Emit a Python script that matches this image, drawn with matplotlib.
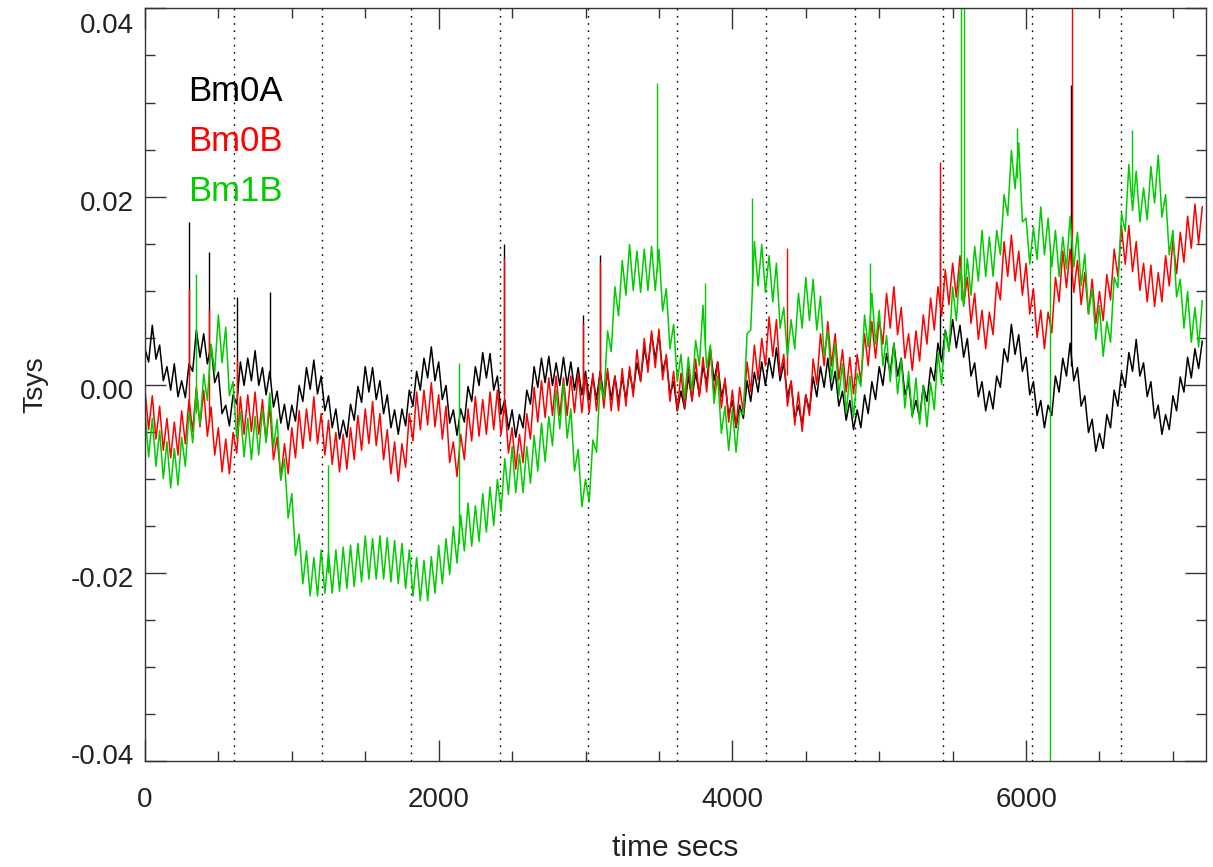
import numpy as np
import matplotlib.pyplot as plt
from matplotlib.ticker import MultipleLocator, FormatStrFormatter
from matplotlib.transforms import ScaledTranslation

# Tsys (unites de 1e-3) : bord haut du bruit aux temps 0, 50, ... 7200 s
# et bord bas aux temps 25, 75, ... 7175 s
t_haut = np.arange(0, 7201, 50)
t_bas = np.arange(25, 7200, 50)

bm0a_haut = [3.8, 6.3, 4.2, 1.9, 2.2, 0.4, 2.2, 5.8, 5.4, 4.2,
             1.3, -2.2, -1.1, 2.4, 2.8, 3.6, 1.8, 1.4, -0.7, -2.1,
             -2.2, -0.1, 1.8, 2.6, 0.9, -1.2, -2.6, -3.8, -2.1, -0.2,
             1.9, 1.8, 0.4, -1.1, -2.7, -2.6, -0.6, 1.4, 2.8, 4.0,
             2.4, -0.1, -2.7, -2.6, -0.2, 1.9, 3.4, 3.3, 0.9, -1.6,
             -2.7, -3.2, -0.6, 1.9, 2.8, 3.0, 2.3, 2.9, 2.4, 1.8,
             1.4, 0.8, 1.4, 1.3, 0.9, 0.8, 1.4, 2.3, 3.9, 5.4,
             5.3, 2.9, 0.3, -0.7, 0.9, 1.3, 1.9, 3.8, 2.4, 0.3,
             -1.7, -2.2, 0.4, 1.3, 2.4, 2.8, 3.9, 2.3, 0.3, -2.2,
             -1.1, 0.8, 1.9, 2.8, 1.4, -0.7, -1.7, -2.7, -1.1, 0.3,
             1.9, 3.3, 4.4, 2.8, 0.3, -1.7, -0.1, 1.8, 4.4, 5.8,
             6.9, 6.3, 4.9, 2.3, 0.3, -0.7, 0.9, 3.8, 6.4, 5.3,
             2.9, 0.3, -1.7, -2.2, 0.9, 2.8, 4.4, 1.8, -1.2, -3.7,
             -5.2, -3.2, -0.6, 1.3, 3.4, 4.8, 2.3, 0.3, -2.2, -3.2,
             -1.2, 0.8, 2.9, 3.8, 4.6]
bm0a_bas = [2.4, 2.7, 0.4, -0.6, -1.3, -1.4, 1.4, 2.9, 2.2, 0.2,
            -3.1, -4.4, -2.1, -0.1, 0.4, -0.1, -1.1, -2.4, -4.1, -4.8,
            -3.9, -1.8, -0.5, -1.0, -2.8, -4.6, -5.8, -5.6, -3.8, -1.9,
            -0.8, -1.6, -3.1, -4.6, -5.3, -4.4, -2.3, -0.6, 0.7, 0.4,
            -1.6, -4.1, -5.4, -4.0, -1.8, -0.1, 0.7, -0.6, -3.1, -4.8,
            -5.6, -4.6, -2.1, -0.3, 0.2, -0.1, -0.1, -0.1, -0.6, -1.1,
            -1.6, -1.6, -1.3, -1.6, -1.8, -1.6, -0.8, 0.4, 1.9, 2.7,
            1.4, -1.1, -2.8, -2.6, -1.6, -1.1, 0.2, 0.4, -1.3, -3.3,
            -4.6, -3.6, -1.8, -0.8, -0.1, 0.7, 0.4, -1.3, -3.6, -4.3,
            -2.8, -1.3, -0.3, -0.6, -2.3, -3.8, -4.8, -4.6, -3.1, -1.6,
            -0.1, 1.2, 0.9, -1.1, -3.3, -3.6, -1.8, 0.4, 2.4, 3.7,
            3.9, 2.9, 0.9, -1.3, -2.8, -2.6, -0.3, 2.4, 3.2, 1.4,
            -1.1, -3.3, -4.6, -3.3, -0.8, 0.9, 0.4, -2.3, -5.1, -7.1,
            -6.8, -4.6, -2.3, -0.3, 1.4, 0.9, -1.3, -3.6, -5.3, -4.8,
            -2.8, -0.8, 0.7, 1.7]

bm0b_haut = [-0.5, -1.2, -2.3, -3.6, -4.0, -2.8, -1.6, -0.3, -0.6, -2.4,
             -4.6, -5.8, -5.1, -1.3, -1.1, -0.8, -1.6, -2.3, -5.6, -6.3,
             -4.6, -2.8, -2.6, -1.3, -3.1, -3.8, -5.1, -5.3, -4.6, -3.3,
             -2.6, -1.8, -3.1, -4.8, -6.1, -6.3, -3.1, -0.8, -0.6, 0.2,
             -1.1, -2.3, -6.1, -5.3, -2.6, -1.3, -1.6, -0.8, -0.6, -1.8,
             -4.6, -5.3, -3.1, -0.3, 0.4, 0.7, 0.9, 0.7, 0.9, 1.2,
             0.9, 1.2, 1.4, 1.7, 0.9, 1.7, 1.9, 3.7, 4.9, 5.7,
             5.9, 3.2, 1.4, 1.2, 1.9, 2.7, 2.9, 3.7, 2.4, 0.7,
             -0.6, -0.3, 2.4, 4.2, 4.9, 7.2, 6.9, 3.2, 0.4, -0.8,
             -1.1, 2.7, 5.4, 6.7, 5.4, 3.7, 2.9, 3.2, 5.4, 6.7,
             6.9, 9.7, 10.4, 8.2, 5.4, 5.7, 7.4, 9.2, 10.4, 12.2,
             12.9, 13.7, 11.4, 9.7, 7.9, 7.7, 10.9, 15.2, 15.9, 14.2,
             12.9, 10.2, 7.9, 7.7, 11.4, 14.2, 14.4, 13.2, 11.9, 11.2,
             9.9, 11.7, 14.4, 16.7, 16.9, 15.2, 12.9, 12.7, 11.9, 13.7,
             15.4, 16.2, 17.9, 19.2, 18.9]
bm0b_bas = [-4.8, -5.8, -7.0, -7.8, -7.5, -6.3, -5.0, -4.5, -5.5, -7.5,
            -9.3, -9.5, -7.3, -5.3, -5.0, -5.3, -6.0, -8.0, -10.0, -9.5,
            -7.8, -6.8, -6.0, -6.3, -7.5, -8.5, -9.3, -9.0, -8.0, -7.0,
            -6.3, -6.5, -8.0, -9.5, -10.3, -8.8, -6.0, -4.8, -4.3, -4.5,
            -5.8, -8.3, -9.8, -8.0, -6.0, -5.5, -5.3, -4.8, -5.3, -7.3,
            -9.0, -8.3, -5.8, -4.0, -3.5, -3.3, -3.3, -3.3, -3.0, -3.0,
            -3.0, -2.8, -2.5, -2.8, -2.8, -2.3, -1.3, 0.3, 1.3, 1.8,
            0.5, -1.8, -2.8, -2.5, -1.8, -1.3, -0.8, -1.0, -2.5, -4.0,
            -4.5, -3.0, -0.8, 0.5, 2.0, 3.0, 1.0, -2.3, -4.3, -5.0,
            -3.3, 0.0, 2.0, 2.0, 0.5, -0.8, -1.0, 0.3, 2.0, 2.8,
            4.3, 6.0, 5.3, 2.8, 1.5, 2.5, 4.3, 5.8, 7.3, 8.5,
            9.3, 8.5, 6.5, 4.8, 3.8, 5.3, 9.0, 11.5, 11.0, 9.5,
            7.5, 5.0, 3.8, 5.5, 8.8, 10.3, 9.8, 8.5, 7.5, 6.5,
            6.8, 9.0, 11.5, 12.8, 12.0, 10.0, 8.8, 8.3, 8.8, 10.5,
            11.8, 13.0, 14.5, 15.0]

bm1b_haut = [-2.8, -3.6, -4.9, -6.1, -6.8, -5.6, -2.9, -0.6, 1.1, 4.3,
             7.4, 6.1, 0.3, -2.9, -3.6, -3.4, -2.6, -0.9, -3.7, -7.9,
             -11.6, -15.9, -17.7, -18.4, -17.6, -17.9, -17.6, -17.3, -17.1, -16.9,
             -16.1, -16.4, -16.1, -16.3, -16.6, -16.9, -17.6, -18.4, -18.7, -18.3,
             -17.1, -16.4, -15.1, -13.9, -12.6, -12.9, -11.6, -10.9, -10.1, -7.9,
             -6.6, -7.4, -6.6, -5.4, -4.1, -3.4, -0.6, 0.2, -2.6, -6.9,
             -10.1, -5.9, 0.4, 5.7, 10.4, 13.2, 14.9, 14.2, 14.4, 14.7,
             14.4, 10.2, 6.4, 3.2, 2.9, 4.7, 8.4, 4.2, 0.9, -2.3,
             -2.6, -2.8, 5.4, 15.2, 14.9, 13.7, 12.9, 8.2, 6.9, 9.7,
             11.4, 11.2, 9.4, 5.7, 4.4, 2.2, 0.9, 1.2, 7.4, 9.7,
             7.9, 5.2, 4.4, 2.7, 1.4, 0.7, -0.1, 0.2, 3.4, 5.7,
             10.4, 12.2, 13.4, 14.7, 16.4, 15.7, 16.4, 20.2, 24.9, 25.7,
             17.7, 16.7, 18.9, 17.7, 16.4, 15.7, 17.9, 16.2, 13.9, 10.2,
             8.4, 6.7, 11.4, 18.2, 23.4, 22.7, 20.9, 23.2, 24.4, 20.2,
             16.4, 11.2, 9.9, 8.2, 8.9]
bm1b_bas = [-7.7, -8.7, -10.0, -11.0, -10.7, -8.7, -6.2, -4.2, -1.7, 1.3,
            2.3, -1.2, -5.7, -7.7, -8.0, -7.5, -6.2, -6.7, -10.2, -14.2,
            -18.2, -21.2, -22.5, -22.5, -22.2, -22.2, -22.0, -21.7, -21.5, -21.0,
            -20.7, -20.7, -20.7, -21.0, -21.2, -21.7, -22.5, -23.0, -23.0, -22.2,
            -21.2, -20.2, -19.0, -17.7, -17.2, -16.7, -15.7, -15.0, -13.5, -11.7,
            -11.5, -11.5, -10.5, -9.2, -8.2, -6.5, -4.7, -5.7, -9.2, -13.0,
            -12.5, -7.2, -1.5, 3.5, 7.3, 9.5, 10.0, 9.8, 10.0, 10.0,
            7.8, 3.8, 0.3, -1.5, -0.7, 2.0, 1.8, -2.0, -5.2, -7.0,
            -7.2, -3.2, 5.8, 10.5, 9.8, 8.8, 6.0, 3.0, 3.8, 6.0,
            6.8, 5.8, 3.0, 0.5, -1.2, -3.0, -3.5, -0.2, 4.0, 4.3,
            2.0, 0.3, -1.0, -2.5, -3.5, -4.2, -4.5, -2.7, 0.0, 3.5,
            6.8, 8.3, 9.5, 11.0, 11.5, 11.5, 13.8, 18.0, 20.8, 17.3,
            12.8, 13.3, 13.8, 12.5, 11.5, 12.3, 12.5, 10.5, 7.5, 4.8,
            3.0, 4.5, 10.3, 16.3, 18.5, 17.3, 17.5, 19.3, 17.8, 13.8,
            9.3, 6.0, 4.5, 4.0]

# pics isoles : temps, base, sommet (1e-3)
pics_a_t = [300, 436, 625, 850, 2445, 2985, 3098, 5414, 6306]
pics_a_bas = [1.0, 3.0, -1.0, 0.5, -1.0, 0.0, 0.0, 3.0, 2.0]
pics_a_haut = [17.3, 14.1, 9.3, 9.8, 15.0, 7.4, 13.8, 18.9, 31.9]

pics_b_t = [300, 436, 625, 2445, 2985, 3098, 4370, 5414, 6310]
pics_b_bas = [-3.5, -4.0, -6.0, -3.0, -1.0, -0.5, 1.0, 8.5, 12.0]
pics_b_haut = [10.2, 7.9, 2.6, 13.5, 6.5, 13.0, 14.5, 23.7, 45.0]

pics_c_t = [350, 1245, 2140, 3487, 3815, 4135, 4937, 5555, 5575, 5935, 6163, 6720]
pics_c_bas = [-3.0, -20.0, -17.0, 12.0, 4.0, 10.0, 5.0, 9.0, 9.0, 22.0, 15.0, 20.0]
pics_c_haut = [11.8, -8.6, 2.3, 32.1, 10.8, 19.8, 12.9, 60.0, 60.0, 27.3, -60.0, 27.1]

# lignes verticales pointillees
reperes = [604, 1208, 1812, 2416, 3020, 3624, 4228, 4832, 5436, 6040, 6644]

series = [("Bm0A", bm0a_haut, bm0a_bas, pics_a_t, pics_a_bas, pics_a_haut, "black"),
          ("Bm0B", bm0b_haut, bm0b_bas, pics_b_t, pics_b_bas, pics_b_haut, "#ff0000"),
          ("Bm1B", bm1b_haut, bm1b_bas, pics_c_t, pics_c_bas, pics_c_haut, "#00cc00")]


def entrelace(a, b):
    # haut, bas, haut, bas, ...
    res = np.empty(len(a) + len(b))
    res[0::2] = a
    res[1::2] = b
    return res


plt.rcParams['font.family'] = ['Liberation Sans', 'DejaVu Sans']

fig = plt.figure(figsize=(12.13, 8.67), dpi=100)
ax = fig.add_axes([0.1195, 0.1228, 0.8747, 0.8674])

for x in reperes:
    ax.axvline(x, color="black", lw=1.0, linestyle=(0, (1.2, 4)), zorder=1)

les_t = entrelace(t_haut, t_bas)
for nom, haut, bas, pt, pb, ph, coul in series:
    les_v = entrelace(haut, bas) * 1e-3
    ax.plot(les_t, les_v, color=coul, lw=1.1, zorder=2)
    ax.vlines(pt, np.array(pb) * 1e-3, np.array(ph) * 1e-3, color=coul, lw=1.0, zorder=2)

ax.set_xlim(0, 7225)
ax.set_ylim(-0.04, 0.04)
ax.xaxis.set_major_locator(MultipleLocator(2000))
ax.xaxis.set_minor_locator(MultipleLocator(500))
ax.set_yticks([-0.04, -0.02, 0.0, 0.02, 0.04])
ax.yaxis.set_minor_locator(MultipleLocator(0.005))
ax.yaxis.set_major_formatter(FormatStrFormatter("%.2f"))

ax.tick_params(which="both", direction="in", top=True, right=True,
               color="#333333", width=1, labelsize=20, labelcolor="#222222")
ax.tick_params(which="major", length=15)
ax.tick_params(which="minor", length=7.5)
ax.tick_params(axis="x", pad=19)
ax.tick_params(axis="y", pad=8)
for s in ax.spines.values():
    s.set_color("#333333")
    s.set_linewidth(1)

# decalage vertical des etiquettes de l'axe y (comme sur l'original)
decal_px = [7, -4, -4, -4, -15]
for lab, d in zip(ax.get_yticklabels(), decal_px):
    lab.set_transform(lab.get_transform() + ScaledTranslation(0, d / 100, fig.dpi_scale_trans))

ax.set_xlabel("time secs", fontsize=21.5, color="#222222", labelpad=15)
ax.set_ylabel("Tsys", fontsize=20.5, color="#222222", labelpad=16)

y_leg = [0.890, 0.823, 0.757]
for (nom, haut, bas, pt, pb, ph, coul), yl in zip(series, y_leg):
    ax.text(0.041, yl, nom, color=coul, fontsize=25, transform=ax.transAxes,
            va="center", ha="left")

fig.savefig("out.png", dpi=100)
